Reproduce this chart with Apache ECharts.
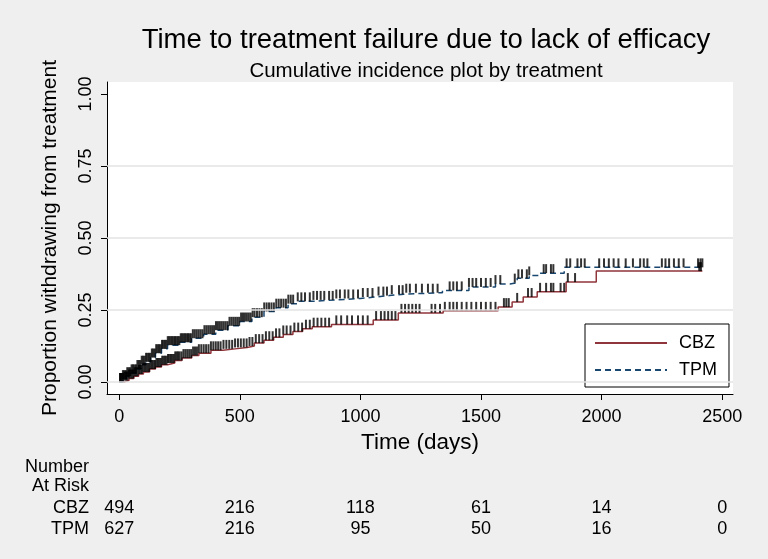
<!DOCTYPE html>
<html>
<head>
<meta charset="utf-8">
<script src="https://cdn.jsdelivr.net/npm/echarts@6/dist/echarts.min.js"></script>
<style>
  html, body { margin: 0; padding: 0; background: #efefef; }
  #chart { width: 768px; height: 559px; }
</style>
</head>
<body>
<div id="chart"></div>
<script>
// step curves (days, cumulative incidence)
var cbzTime = [0,20,40,60,80,100,125,150,175,200,230,260,300,330,380,430,480,530,560,600,640,680,720,760,800,880,1053,1157,1343,1571,1629,1675,1733,1853,1978,2418];
var cbzCum  = [0,0.005,0.012,0.02,0.028,0.035,0.045,0.052,0.06,0.066,0.075,0.083,0.092,0.1,0.11,0.115,0.12,0.125,0.135,0.145,0.155,0.165,0.175,0.185,0.192,0.2,0.215,0.24,0.247,0.26,0.278,0.295,0.313,0.347,0.385,0.385];

var tpmTime = [0,15,30,50,70,90,110,130,150,175,200,250,300,350,400,450,500,550,600,650,700,740,800,900,1000,1060,1120,1180,1340,1450,1560,1620,1650,1700,1740,1845,2418];
var tpmCum  = [0,0.01,0.02,0.03,0.045,0.06,0.07,0.085,0.1,0.115,0.128,0.138,0.152,0.166,0.18,0.195,0.21,0.225,0.245,0.258,0.272,0.28,0.285,0.29,0.295,0.3,0.305,0.31,0.318,0.33,0.34,0.345,0.36,0.37,0.378,0.398,0.398];

// censoring times (tick marks)
var cbzCensor = [4,10,16,22,28,34,40,46,52,58,64,70,76,82,88,94,100,106,112,118,124,130,136,142,148,154,160,166,172,178,184,190,196,202,208,214,220,226,232,238,244,250,258,266,274,282,290,298,306,314,322,330,340,350,360,370,380,390,400,410,420,432,444,456,468,480,492,504,516,528,540,552,566,580,594,608,622,636,650,664,680,694,710,726,742,758,774,790,806,822,838,854,870,900,920,945,965,990,1010,1030,1065,1085,1100,1115,1130,1145,1170,1185,1200,1215,1230,1245,1295,1310,1330,1350,1370,1385,1400,1420,1440,1460,1480,1500,1520,1540,1560,1595,1605,1615,1650,1695,1710,1745,1770,1790,1800,1830,1845,1860,1890,2405,2412];
var tpmCensor = [3,9,15,21,27,33,39,45,51,57,63,69,75,81,87,93,99,105,111,117,123,129,135,141,147,153,159,165,171,177,183,189,195,201,207,213,219,225,231,237,243,249,255,261,267,273,279,285,291,297,305,313,321,329,337,345,353,361,369,377,385,393,401,409,417,425,433,441,449,457,465,473,481,489,497,505,513,521,529,537,545,553,561,571,581,591,601,611,621,631,641,651,661,671,681,691,701,711,721,740,755,770,790,805,820,835,850,870,885,900,915,935,950,970,990,1010,1030,1050,1075,1095,1110,1130,1160,1175,1190,1205,1230,1255,1280,1300,1320,1370,1385,1400,1420,1450,1465,1480,1500,1520,1540,1560,1580,1640,1655,1670,1690,1700,1760,1770,1790,1800,1855,1870,1900,1915,1930,1990,2010,2030,2050,2070,2100,2130,2160,2175,2190,2250,2265,2280,2300,2320,2340,2400,2410,2418];

// axis ticks and number at risk
var xTicks = [0,500,1000,1500,2000,2500];
var yTicks = [0,0.25,0.5,0.75,1];
var gridTicks = [0,0.25,0.5,0.75];
var cbzRisk = [494,216,118,61,14,0];
var tpmRisk = [627,216,95,50,16,0];

var FONT = '"Liberation Sans", Arial, sans-serif';

var pairs = function(t, v){
    var out = [];
    for(var i=0;i<t.length;i++){ out.push([t[i], v[i]]); }
    return out;
};
// value of a step curve at time x
var stepAt = function(t, v, x){
    var y = 0;
    for(var i=0;i<t.length;i++){ if(t[i] <= x){ y = v[i]; } }
    return y;
};
var censorPts = function(c, t, v){
    return c.map(function(x){ return [x, stepAt(t, v, x)]; });
};
var riskAxis = function(risk, offset){
    return {
        type: 'value', min: -51, max: 2545, position: 'bottom', offset: offset,
        axisLine: {show: false, onZero: false}, axisTick: {show: false}, splitLine: {show: false},
        axisLabel: {
            customValues: xTicks, margin: 8, color: '#000', fontSize: 18, fontFamily: FONT,
            formatter: function(val){ return String(risk[xTicks.indexOf(val)]); }
        }
    };
};

var chart = echarts.init(document.getElementById('chart'));
var option = {
    backgroundColor: '#efefef',
    animation: false,
    textStyle: {fontFamily: FONT},
    title: [
        {text: 'Time to treatment failure due to lack of efficacy', left: 421, top: 21, textAlign: 'center',
            textStyle: {fontSize: 27.5, fontWeight: 'normal', color: '#000', fontFamily: FONT}},
        {text: 'Cumulative incidence plot by treatment', left: 421, top: 56, textAlign: 'center',
            textStyle: {fontSize: 20.5, fontWeight: 'normal', color: '#000', fontFamily: FONT}}
    ],
    grid: {left: 107, right: 35, top: 82, bottom: 165, show: true, backgroundColor: '#fff', borderWidth: 0},
    legend: {
        data: ['CBZ', 'TPM'], orient: 'vertical', left: 585, top: 324,
        backgroundColor: '#fff', borderColor: '#000', borderWidth: 1, borderRadius: 0,
        padding: [10, 12, 8, 9], itemGap: 9, itemWidth: 72, itemHeight: 14,
        itemStyle: {opacity: 0, color: 'transparent', borderWidth: 0},
        textStyle: {fontSize: 18, lineHeight: 18, color: '#000', fontFamily: FONT, padding: [0, 0, 0, 7]}
    },
    xAxis: [
        {
            type: 'value', min: -51, max: 2545,
            name: 'Time (days)', nameLocation: 'middle', nameGap: 29,
            nameTextStyle: {fontSize: 22.5, color: '#000', fontFamily: FONT},
            axisLine: {onZero: false, lineStyle: {color: '#000', width: 1}},
            axisTick: {customValues: xTicks, length: 6, lineStyle: {color: '#000'}},
            axisLabel: {customValues: xTicks, margin: 14, fontSize: 18, color: '#000', fontFamily: FONT,
                formatter: function(v){ return String(v); }},
            splitLine: {show: false}
        },
        riskAxis(cbzRisk, 97),
        riskAxis(tpmRisk, 118)
    ],
    yAxis: {
        type: 'value', min: -0.0417, max: 1.0417,
        name: 'Proportion withdrawing from treatment', nameLocation: 'middle', nameGap: 46, nameRotate: 90,
        nameTextStyle: {fontSize: 21, color: '#000', fontFamily: FONT},
        axisLine: {show: true, onZero: false, lineStyle: {color: '#000', width: 1}},
        axisTick: {show: true, customValues: yTicks, length: 6, lineStyle: {color: '#000'}},
        axisLabel: {customValues: yTicks, rotate: 90, margin: 12, fontSize: 18, color: '#000', fontFamily: FONT,
            formatter: function(v){ return v.toFixed(2); }},
        splitLine: {show: false}
    },
    graphic: [
        {type: 'text', x: 89, y: 467, style: {text: 'Number', align: 'right', verticalAlign: 'middle', fontSize: 18, fontFamily: FONT, fill: '#000'}},
        {type: 'text', x: 89, y: 486, style: {text: 'At Risk', align: 'right', verticalAlign: 'middle', fontSize: 18, fontFamily: FONT, fill: '#000'}},
        {type: 'text', x: 89, y: 508, style: {text: 'CBZ', align: 'right', verticalAlign: 'middle', fontSize: 18, fontFamily: FONT, fill: '#000'}},
        {type: 'text', x: 89, y: 529, style: {text: 'TPM', align: 'right', verticalAlign: 'middle', fontSize: 18, fontFamily: FONT, fill: '#000'}}
    ],
    series: [
        {
            name: 'grid', type: 'line', data: [[0, 0]], symbol: 'none', silent: true, z: 1,
            lineStyle: {opacity: 0},
            markLine: {
                silent: true, symbol: ['none', 'none'], label: {show: false},
                lineStyle: {color: '#e3e3e3', width: 1.5, type: 'solid'},
                data: gridTicks.map(function(v){ return {yAxis: v}; })
            }
        },
        {
            name: 'CBZ', type: 'line', step: 'end', symbol: 'none', z: 3,
            lineStyle: {color: '#90353b', width: 1.5},
            itemStyle: {color: '#90353b'},
            data: pairs(cbzTime, cbzCum)
        },
        {
            name: 'TPM', type: 'line', step: 'end', symbol: 'none', z: 3,
            lineStyle: {color: '#1a476f', width: 1.5, type: [6, 4]},
            itemStyle: {color: '#1a476f'},
            data: pairs(tpmTime, tpmCum)
        },
        {
            name: 'CBZ censored', type: 'scatter', symbol: 'rect', symbolSize: [2, 9], symbolOffset: [0, -4.5],
            itemStyle: {color: '#000'}, silent: true, z: 4,
            data: censorPts(cbzCensor, cbzTime, cbzCum)
        },
        {
            name: 'TPM censored', type: 'scatter', symbol: 'rect', symbolSize: [2, 9], symbolOffset: [0, -4.5],
            itemStyle: {color: '#000'}, silent: true, z: 4,
            data: censorPts(tpmCensor, tpmTime, tpmCum)
        }
    ]
};
chart.setOption(option);
</script>
</body>
</html>
